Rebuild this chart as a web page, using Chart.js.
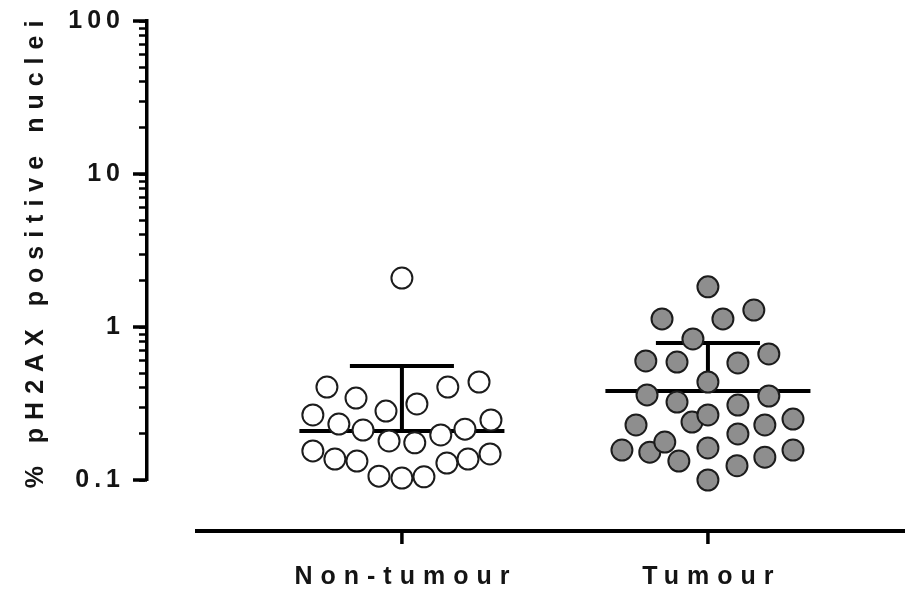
<!DOCTYPE html>
<html>
<head>
<meta charset="utf-8">
<script src="https://cdn.jsdelivr.net/npm/chart.js@4"></script>
<style>
  html, body { margin: 0; padding: 0; background: #fff; }
  #wrap { width: 905px; height: 590px; position: relative; }
</style>
</head>
<body>
<div id="wrap"><canvas id="dotPlot"></canvas></div>
<script>
const categories = ["Non-tumour", "Tumour"];
const yTitle = "% pH2AX positive nuclei";
const yTickValues = [0.1, 1, 10, 100];

// % positive nuclei per sample
const nonTumourValues = [0.405, 0.343, 0.282, 0.314, 0.405, 0.437, 0.266, 0.232, 0.212, 0.180, 0.175, 0.197,
  0.215, 0.247, 0.155, 0.137, 0.133, 0.106, 0.103, 0.105, 0.129, 0.137, 0.148, 2.09];
// horizontal scatter of each dot (category units)
const nonTumourJitter = [-0.245, -0.150, -0.052, 0.049, 0.150, 0.252, -0.291, -0.206, -0.127, -0.042, 0.042, 0.127,
  0.206, 0.291, -0.291, -0.219, -0.147, -0.075, 0, 0.072, 0.147, 0.216, 0.288, 0];

const tumourValues = [1.83, 1.13, 1.13, 1.29, 0.835, 0.600, 0.590, 0.582, 0.667, 0.437, 0.360, 0.323, 0.309,
  0.354, 0.239, 0.266, 0.229, 0.200, 0.229, 0.250, 0.157, 0.152, 0.177, 0.133, 0.162, 0.124, 0.141, 0.157, 0.100];
const tumourJitter = [0, -0.150, 0.049, 0.150, -0.049, -0.203, -0.101, 0.098, 0.199, 0, -0.199, -0.101, 0.098,
  0.199, -0.052, 0, -0.235, 0.098, 0.186, 0.278, -0.281, -0.190, -0.141, -0.095, 0, 0.095, 0.186, 0.278, 0];

// centre line and upper error bar per group
const centreValues = [0.209, 0.382];
const upperValues = [0.556, 0.786];

const FONT = "'Liberation Sans', Arial, sans-serif";
const INK = "#141414";

function toPoints(values, jitter, pos) {
  return values.map((v, i) => ({ x: pos + jitter[i], y: v }));
}

function summaryPoints(i) {
  const c = i + 1;
  const m = centreValues[i];
  const u = upperValues[i];
  const hw = 0.335, cw = 0.17;
  return [
    { x: c - hw, y: m }, { x: c + hw, y: m }, { x: c, y: null },
    { x: c, y: m }, { x: c, y: u }, { x: c, y: null },
    { x: c - cw, y: u }, { x: c + cw, y: u }
  ];
}

const axisDecor = {
  id: "axisDecor",
  beforeDraw(chart) {
    chart.ctx.letterSpacing = "5px";
  },
  afterDraw(chart) {
    const ctx = chart.ctx;
    const xs = chart.scales.x;
    const ys = chart.scales.y;
    const area = chart.chartArea;
    ctx.save();
    ctx.strokeStyle = "#000";
    ctx.lineCap = "butt";

    // major y ticks (longer)
    ctx.lineWidth = 3.5;
    yTickValues.forEach((v) => {
      const py = ys.getPixelForValue(v);
      ctx.beginPath();
      ctx.moveTo(area.left - 14, py);
      ctx.lineTo(area.left, py);
      ctx.stroke();
    });

    // detached x axis
    const axisY = area.bottom + 51;
    ctx.lineWidth = 4;
    ctx.beginPath();
    ctx.moveTo(area.left + 48, axisY);
    ctx.lineTo(chart.width, axisY);
    ctx.stroke();

    ctx.fillStyle = INK;
    ctx.font = "bold 25px " + FONT;
    ctx.letterSpacing = "8px";
    ctx.textAlign = "center";
    ctx.textBaseline = "alphabetic";
    categories.forEach((name, i) => {
      const px = xs.getPixelForValue(i + 1);
      ctx.lineWidth = 3.5;
      ctx.beginPath();
      ctx.moveTo(px, axisY);
      ctx.lineTo(px, axisY + 13);
      ctx.stroke();
      ctx.fillText(name, px + 4, axisY + 53);
    });

    // y title
    ctx.translate(43, (ys.top + ys.bottom) / 2 + 4);
    ctx.rotate(-Math.PI / 2);
    ctx.fillText(yTitle, 4, 0);
    ctx.restore();
    ctx.letterSpacing = "0px";
  }
};

const minorTicks = [];
for (let d = 0.1; d < 100; d *= 10) {
  for (let k = 1; k < 10; k++) minorTicks.push(+(d * k).toPrecision(3));
}
minorTicks.push(100);

new Chart(document.getElementById("dotPlot"), {
  type: "scatter",
  data: {
    datasets: [
      {
        label: categories[0],
        data: toPoints(nonTumourValues, nonTumourJitter, 1),
        clip: false,
        pointRadius: 10.5,
        pointBorderWidth: 2,
        pointBackgroundColor: "#ffffff",
        pointBorderColor: "#1c1c1c"
      },
      {
        label: categories[1],
        data: toPoints(tumourValues, tumourJitter, 2),
        clip: false,
        pointRadius: 10.5,
        pointBorderWidth: 2,
        pointBackgroundColor: "#8e8e8e",
        pointBorderColor: "#1c1c1c"
      },
      {
        label: "summary " + categories[0],
        data: summaryPoints(0),
        showLine: true,
        spanGaps: false,
        pointRadius: 0,
        borderWidth: 4,
        borderColor: "#000",
        borderCapStyle: "butt"
      },
      {
        label: "summary " + categories[1],
        data: summaryPoints(1),
        showLine: true,
        spanGaps: false,
        pointRadius: 0,
        borderWidth: 4,
        borderColor: "#000",
        borderCapStyle: "butt"
      }
    ]
  },
  options: {
    responsive: true,
    maintainAspectRatio: false,
    animation: false,
    layout: { autoPadding: false, padding: { top: 21, bottom: 110, left: 0, right: 0 } },
    plugins: { legend: { display: false }, tooltip: { enabled: false } },
    scales: {
      x: {
        type: "linear",
        display: false,
        min: 0.167,
        max: 2.644
      },
      y: {
        type: "logarithmic",
        min: 0.1,
        max: 100,
        afterBuildTicks: (scale) => {
          scale.ticks = minorTicks.map((v) => ({ value: v, major: yTickValues.includes(v) }));
        },
        afterFit: (scale) => {
          scale.width = 147;
          scale.paddingTop = 0;
          scale.paddingBottom = 0;
        },
        border: { display: true, color: "#000", width: 3.5 },
        grid: {
          display: true,
          drawOnChartArea: false,
          drawTicks: true,
          tickLength: 8,
          tickWidth: 2.5,
          tickColor: "#000"
        },
        ticks: {
          autoSkip: false,
          padding: 14,
          color: INK,
          font: { family: FONT, size: 25, weight: "bold" },
          callback: (v) => (yTickValues.includes(v) ? String(v) : "")
        }
      }
    }
  },
  plugins: [axisDecor]
});
</script>
</body>
</html>
